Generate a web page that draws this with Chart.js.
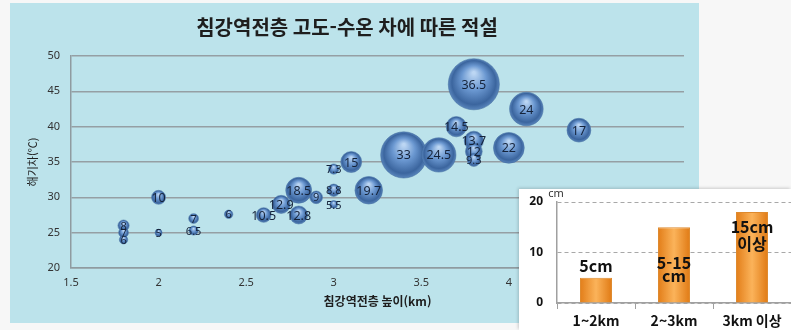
<!DOCTYPE html>
<html lang="ko">
<head>
<meta charset="UTF-8">
<title>침강역전층 고도-수온 차에 따른 적설</title>
<script src="https://cdn.jsdelivr.net/npm/chart.js"></script>
<style>
  body {
    margin: 0;
    background: #f7f7f7;
    width: 791px;
    height: 330px;
    overflow: hidden;
    position: relative;
  }
  #main-box {
    position: absolute;
    left: 10px;
    top: 3px;
    width: 689px;
    height: 320px;
    background: #bce3eb;
  }
  #inset-box {
    position: absolute;
    left: 519px;
    top: 189px;
    width: 272px;
    height: 141px;
    background: #ffffff;
    box-shadow: -1px -1px 3px rgba(0, 0, 0, 0.18);
  }
  canvas { display: block; }
</style>
</head>
<body>
<div id="main-box"><canvas id="bubbleChart" width="689" height="320"></canvas></div>
<div id="inset-box"><canvas id="barChart" width="272" height="141"></canvas></div>

<script>
  // bubble chart: inversion height (km), sea-air temp difference, snowfall (cm)
  const heights  = [1.8, 1.8, 1.8, 2.0, 2.0, 2.2, 2.2, 2.4, 2.6, 2.7, 2.8, 2.8, 2.9, 3.0, 3.0, 3.0, 3.1, 3.2, 3.4, 3.6, 3.7, 3.8, 3.8, 3.8, 3.8, 4.0, 4.1, 4.4];
  const tempDiff = [26, 25, 24, 30, 25, 27, 25.3, 27.6, 27.5, 29, 31, 27.5, 30, 34, 31, 29, 35, 31, 36, 36, 40, 46, 38, 36.5, 35.3, 37, 42.5, 39.5];
  const snowfall = [8, 7, 6, 10, 5, 7, 6.5, 6, 10.5, 12.9, 18.5, 12.8, 9, 7.3, 8.8, 5.5, 15, 19.7, 33, 24.5, 14.5, 36.5, 13.7, 12, 9.3, 22, 24, 17];

  // inset bar chart
  const rangeLabels = ['1~2km', '2~3km', '3km 이상'];
  const snowDepth = [5, 15, 18];
  const depthText = [['5cm'], ['5-15', 'cm'], ['15cm', '이상']];
  const depthTextAt = [[7.3], [7.9, 5.3], [15.1, 11.7]];

  const FONT = '"Noto Sans", "Noto Sans CJK KR", sans-serif';
  const KFONT = '"Noto Sans CJK KR", "Noto Sans", sans-serif';
  const bubbleScale = 0.7;

  Chart.defaults.font.family = FONT;

  const bubblePoints = heights.map((h, i) => ({ x: h, y: tempDiff[i], r: snowfall[i] * bubbleScale }));

  function sphereFill(ctx) {
    const chart = ctx.chart;
    const raw = ctx.raw;
    if (!raw || !chart.scales.x || !chart.scales.y) return '#4f81bd';
    const cx = chart.scales.x.getPixelForValue(raw.x);
    const cy = chart.scales.y.getPixelForValue(raw.y);
    const r = raw.r;
    if (!isFinite(cx) || !isFinite(cy) || !isFinite(r)) return '#4f81bd';
    const g = chart.ctx.createRadialGradient(cx, cy - r * 0.45, r * 0.05, cx, cy, r);
    g.addColorStop(0, '#bcd6f3');
    g.addColorStop(0.45, '#6b98d1');
    g.addColorStop(0.85, '#3b659e');
    g.addColorStop(1, '#5884bb');
    return g;
  }

  const bubbleLabels = {
    id: 'bubbleLabels',
    afterDatasetsDraw(chart) {
      const ctx = chart.ctx;
      const meta = chart.getDatasetMeta(0);
      ctx.save();
      ctx.textAlign = 'center';
      ctx.textBaseline = 'middle';
      ctx.fillStyle = '#15233a';
      meta.data.forEach((pt, i) => {
        ctx.font = (snowfall[i] >= 10 ? '12.5px ' : '11px ') + FONT;
        ctx.fillText(String(snowfall[i]), pt.x, pt.y + 1);
      });
      ctx.restore();
    }
  };

  new Chart(document.getElementById('bubbleChart'), {
    type: 'bubble',
    data: {
      datasets: [{
        data: bubblePoints,
        backgroundColor: sphereFill,
        borderColor: '#3b6498',
        borderWidth: 0.5
      }]
    },
    options: {
      responsive: false,
      animation: false,
      layout: { autoPadding: false, padding: { top: 0, right: 15, bottom: 0, left: 0 } },
      plugins: {
        legend: { display: false },
        tooltip: { enabled: false },
        title: {
          display: true,
          text: '침강역전층 고도-수온 차에 따른 적설',
          color: '#1e1e1e',
          font: { family: KFONT, size: 20, weight: 'bold' },
          padding: { top: 12, bottom: 17 }
        }
      },
      scales: {
        x: {
          type: 'linear',
          min: 1.5,
          max: 5,
          afterFit: (s) => { s.height = 55; },
          ticks: {
            stepSize: 0.5, color: '#333', font: { size: 11 }, padding: 8,
            callback: (v) => String(v)
          },
          grid: { display: false, drawTicks: false },
          border: { display: true, color: '#8f9ba0', width: 1.5 },
          title: {
            display: true,
            text: '침강역전층 높이(km)',
            color: '#1e1e1e',
            font: { family: KFONT, size: 12, weight: 'bold' },
            padding: { top: 0, bottom: 14 }
          }
        },
        y: {
          min: 20,
          max: 50,
          afterFit: (s) => { s.width = 61; },
          ticks: { stepSize: 5, color: '#333', font: { size: 11 }, padding: 11 },
          grid: { color: '#959fa4', lineWidth: 1.5, drawTicks: false },
          border: { display: true, color: '#8f9ba0', width: 1.5 },
          title: {
            display: true,
            text: '해기차(℃)',
            color: '#1e1e1e',
            font: { family: KFONT, size: 11 },
            padding: { top: 16, bottom: 0 }
          }
        }
      }
    },
    plugins: [bubbleLabels]
  });

  function barFill(ctx) {
    const chart = ctx.chart;
    const xs = chart.scales.x;
    if (!xs || !xs.width) return '#f39a35';
    const cx = xs.getPixelForValue(ctx.dataIndex);
    const half = xs.width / rangeLabels.length * 0.41 / 2;
    if (!isFinite(cx) || !isFinite(half)) return '#f39a35';
    const g = chart.ctx.createLinearGradient(cx - half, 0, cx + half, 0);
    g.addColorStop(0, '#e27d18');
    g.addColorStop(0.5, '#fbb35a');
    g.addColorStop(1, '#e07a14');
    return g;
  }

  const barTexts = {
    id: 'barTexts',
    afterDatasetsDraw(chart) {
      const ctx = chart.ctx;
      const meta = chart.getDatasetMeta(0);
      const ys = chart.scales.y;
      ctx.save();
      ctx.textAlign = 'center';
      ctx.textBaseline = 'middle';
      ctx.fillStyle = '#111';
      ctx.font = 'bold 16px ' + KFONT;
      meta.data.forEach((bar, i) => {
        depthText[i].forEach((line, j) => {
          ctx.fillText(line, bar.x, ys.getPixelForValue(depthTextAt[i][j]));
        });
      });
      // unit label above the axis
      ctx.font = '11px ' + FONT;
      ctx.fillStyle = '#333';
      ctx.fillText('cm', chart.chartArea.left - 1, 5);
      ctx.restore();
    }
  };

  new Chart(document.getElementById('barChart'), {
    type: 'bar',
    data: {
      labels: rangeLabels,
      datasets: [{
        data: snowDepth,
        backgroundColor: barFill,
        borderColor: '#de8a2e',
        borderWidth: 1,
        categoryPercentage: 1,
        barPercentage: 0.41
      }]
    },
    options: {
      responsive: false,
      animation: false,
      layout: { autoPadding: false, padding: { top: 13, right: 0, bottom: 0, left: 0 } },
      plugins: { legend: { display: false }, tooltip: { enabled: false } },
      scales: {
        x: {
          afterFit: (s) => { s.height = 27; },
          ticks: { color: '#111', font: { family: KFONT, size: 14, weight: 'bold' }, padding: 3 },
          grid: { offset: true, drawOnChartArea: false, drawTicks: true, tickLength: 6, color: '#a0a0a0' },
          border: { display: true, color: '#a0a0a0', width: 1.5 }
        },
        y: {
          min: 0,
          max: 20,
          afterFit: (s) => { s.width = 38; s.paddingTop = 0; s.paddingBottom = 0; },
          ticks: { stepSize: 10, color: '#111', font: { size: 12, weight: 'bold' }, padding: 14 },
          grid: { color: '#a8a8a8', drawTicks: false },
          border: { display: true, color: '#a0a0a0', width: 1.5, dash: [4, 3] }
        }
      }
    },
    plugins: [barTexts]
  });
</script>
</body>
</html>
